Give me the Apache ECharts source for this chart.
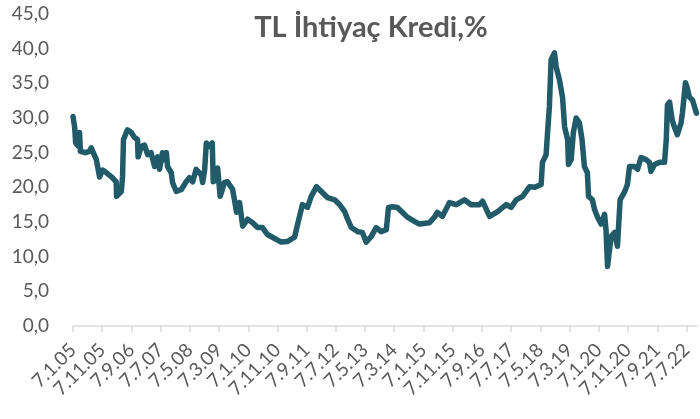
<!DOCTYPE html>
<html>
<head>
<meta charset="utf-8">
<script src="https://cdn.jsdelivr.net/npm/echarts@6/dist/echarts.min.js"></script>
<style>
  html, body { margin: 0; padding: 0; background: #fff; }
  #chart { width: 700px; height: 419px; }
</style>
</head>
<body>
<div id="chart"></div>
<script>
// x ekseni etiketleri (G.A.YY)
const tickLabels = ['7.1.05', '7.11.05', '7.9.06', '7.7.07', '7.5.08', '7.3.09', '7.1.10', '7.11.10',
  '7.9.11', '7.7.12', '7.5.13', '7.3.14', '7.1.15', '7.11.15', '7.9.16', '7.7.17', '7.5.18',
  '7.3.19', '7.1.20', '7.11.20', '7.9.21', '7.7.22'];

// tarih ve faiz (%)
const dates = [
  '2005-01-07', '2005-01-24', '2005-02-04', '2005-02-25', '2005-03-16', '2005-03-25', '2005-05-17', '2005-06-28',
  '2005-07-16', '2005-09-07', '2005-10-11', '2005-11-12', '2005-12-22', '2006-02-21', '2006-04-02', '2006-04-06',
  '2006-05-25', '2006-06-07', '2006-06-17', '2006-07-28', '2006-09-07', '2006-10-10', '2006-11-10', '2006-11-16',
  '2006-12-19', '2007-01-22', '2007-02-24', '2007-03-31', '2007-05-07', '2007-06-07', '2007-06-28', '2007-07-28',
  '2007-08-19', '2007-09-07', '2007-09-19', '2007-10-28', '2007-11-10', '2007-12-19', '2008-02-10', '2008-03-31',
  '2008-05-04', '2008-06-07', '2008-07-13', '2008-09-04', '2008-09-19', '2008-10-10', '2008-10-27', '2008-12-01',
  '2008-12-28', '2009-01-07', '2009-02-10', '2009-02-22', '2009-03-20', '2009-05-04', '2009-06-04', '2009-07-28',
  '2009-08-16', '2009-09-07', '2009-10-08', '2009-11-10', '2009-12-31', '2010-02-22', '2010-04-13', '2010-06-04',
  '2010-07-25', '2010-09-16', '2010-12-16', '2011-02-21', '2011-05-04', '2011-06-25', '2011-07-25', '2011-09-16',
  '2011-10-25', '2011-12-19', '2012-02-07', '2012-04-13', '2012-06-25', '2012-08-16', '2012-10-07', '2012-11-07',
  '2012-12-16', '2013-02-22', '2013-04-10', '2013-05-19', '2013-07-10', '2013-08-31', '2013-10-22', '2013-12-15',
  '2014-01-07', '2014-02-19', '2014-04-10', '2014-05-31', '2014-07-22', '2014-10-04', '2014-11-26', '2015-03-10',
  '2015-05-01', '2015-05-31', '2015-07-22', '2015-10-04', '2015-12-13', '2016-03-08', '2016-05-16', '2016-08-12',
  '2016-09-13', '2016-11-25', '2017-02-17', '2017-05-17', '2017-07-07', '2017-08-30', '2017-11-04', '2018-01-16',
  '2018-03-07', '2018-05-16', '2018-05-30', '2018-07-07', '2018-07-22', '2018-08-10', '2018-08-28', '2018-10-02',
  '2018-10-19', '2018-11-23', '2018-12-25', '2019-01-16', '2019-02-16', '2019-02-25', '2019-03-25', '2019-04-17',
  '2019-05-16', '2019-06-19', '2019-07-16', '2019-08-10', '2019-09-10', '2019-09-22', '2019-11-01', '2019-11-24',
  '2019-12-25', '2020-01-31', '2020-03-07', '2020-03-22', '2020-04-07', '2020-05-14', '2020-06-19', '2020-07-19',
  '2020-08-16', '2020-09-30', '2020-10-31', '2020-11-22', '2021-01-13', '2021-02-14', '2021-03-22', '2021-05-13',
  '2021-06-17', '2021-07-04', '2021-08-09', '2021-09-30', '2021-11-22', '2021-12-10', '2021-12-22', '2022-01-13',
  '2022-02-10', '2022-03-04', '2022-04-04', '2022-05-13', '2022-05-27', '2022-06-28', '2022-07-17', '2022-08-08',
  '2022-09-09', '2022-10-20'
];
const rates = [
  30.2, 28.7, 26.4, 26.0, 27.9, 25.2, 25.0, 25.2,
  25.7, 24.0, 21.5, 22.5, 22.1, 21.4, 20.8, 18.7,
  19.4, 21.5, 26.9, 28.3, 27.9, 27.2, 26.9, 24.4,
  25.9, 26.1, 24.7, 25.0, 23.0, 24.4, 22.6, 25.0,
  24.0, 25.0, 23.0, 22.1, 20.7, 19.4, 19.7, 20.8,
  21.4, 20.8, 22.6, 21.8, 20.7, 22.6, 26.4, 25.9,
  26.4, 20.8, 21.1, 22.8, 18.7, 20.7, 20.8, 19.7,
  18.2, 16.4, 17.8, 14.4, 15.4, 14.9, 14.2, 14.2,
  13.2, 12.8, 12.1, 12.2, 12.8, 15.8, 17.5, 17.1,
  18.7, 20.1, 19.4, 18.5, 18.2, 17.5, 16.5, 15.4,
  14.2, 13.6, 13.5, 12.1, 12.9, 14.2, 13.6, 13.9,
  17.1, 17.2, 17.1, 16.4, 15.7, 15.1, 14.7, 14.9,
  15.7, 16.4, 15.8, 17.8, 17.5, 18.2, 17.5, 17.5,
  18.0, 15.8, 16.5, 17.5, 17.1, 18.2, 18.7, 20.1,
  20.0, 20.4, 23.6, 24.7, 27.9, 31.6, 38.4, 39.4,
  37.4, 35.5, 33.0, 28.7, 26.9, 23.3, 24.0, 27.9,
  30.0, 29.3, 26.9, 23.0, 22.1, 18.7, 18.2, 16.8,
  15.7, 14.7, 16.1, 13.9, 8.6, 12.9, 13.5, 11.5,
  18.2, 19.3, 20.4, 23.0, 23.0, 22.6, 24.3, 24.0,
  23.6, 22.3, 23.3, 23.6, 23.6, 26.9, 31.9, 32.3,
  29.7, 28.7, 27.6, 29.3, 30.7, 35.1, 34.3, 33.0,
  32.6, 30.7
];

const toTime = (s) => {
  const [y, m, d] = s.split('-').map(Number);
  return Date.UTC(y, m - 1, d);
};
const labelTime = (s) => {
  const [d, m, y] = s.split('.').map(Number);
  return Date.UTC(2000 + y, m - 1, d);
};

const tickTimes = tickLabels.map(labelTime);
const labelMap = {};
tickTimes.forEach((t, i) => { labelMap[t] = tickLabels[i]; });

const myChart = echarts.init(document.getElementById('chart'));

const option = {
  animation: false,
  textStyle: { fontFamily: 'Lato' },
  title: {
    text: 'TL İhtiyaç Kredi,%',
    left: 366,
    top: 8,
    textAlign: 'center',
    textStyle: { color: '#595959', fontSize: 29, fontWeight: 'bold', fontFamily: 'Lato' }
  },
  grid: { left: 73, right: 3, top: 14, bottom: 93 },
  xAxis: {
    type: 'value',
    min: labelTime('7.1.05'),
    max: toTime('2022-10-26'),
    axisLine: { show: true, lineStyle: { color: '#D9D9D9', width: 1.5 } },
    axisTick: { show: true, length: 6, lineStyle: { color: '#D9D9D9', width: 1.5 }, customValues: tickTimes },
    axisLabel: {
      customValues: tickTimes,
      rotate: 45,
      margin: 21,
      color: '#595959',
      fontSize: 19,
      fontFamily: 'Lato',
      formatter: (v) => labelMap[v] || ''
    },
    splitLine: { show: false }
  },
  yAxis: {
    type: 'value',
    min: 0,
    max: 45,
    interval: 5,
    axisLine: { show: false },
    axisTick: { show: false },
    splitLine: { show: false },
    axisLabel: {
      margin: 24,
      color: '#595959',
      fontSize: 19,
      fontFamily: 'Lato',
      formatter: (v) => v.toFixed(1).replace('.', ',')
    }
  },
  series: [
    {
      type: 'line',
      showSymbol: false,
      symbol: 'none',
      data: dates.map((d, i) => [toTime(d), rates[i]]),
      lineStyle: { color: '#215A69', width: 5.5, cap: 'round', join: 'round' }
    }
  ]
};

myChart.setOption(option);
</script>
</body>
</html>
